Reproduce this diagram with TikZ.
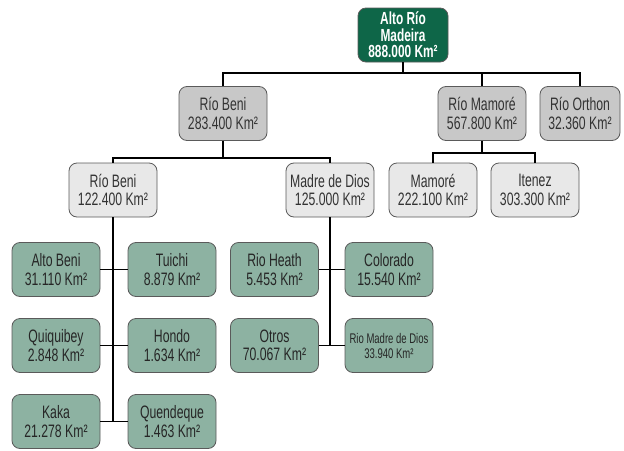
\documentclass[tikz,border=0pt]{standalone}
\usepackage{fontspec}
\setmainfont[FakeStretch=0.68]{Liberation Sans}
\usepackage{tikz}
\usetikzlibrary{positioning}

\definecolor{rootgreen}{HTML}{0E6648}
\definecolor{boxgreen}{HTML}{8DB2A2}
\definecolor{grayone}{HTML}{C8C8C8}
\definecolor{graytwo}{HTML}{E8E8E8}
\definecolor{boxline}{HTML}{5A5A5A}

\tikzset{
  basebox/.style={rounded corners=8pt, draw=boxline, line width=0.8pt, align=center,
    minimum width=88pt, minimum height=54pt, inner sep=1pt,
    font=\fontsize{18}{18.5}\selectfont},
  rootbox/.style={basebox, fill=rootgreen, text=white, minimum width=90pt,
    font=\bfseries\fontsize{17.5}{16.5}\selectfont},
  grayA/.style={basebox, fill=grayone, text=black!80},
  grayB/.style={basebox, fill=graytwo, text=black!80},
  greenbox/.style={basebox, fill=boxgreen, text=black!85},
  link/.style={draw=black, line width=1.4pt}
}

\begin{document}
\begin{tikzpicture}[x=1pt, y=-1pt]
  \useasboundingbox (0,0) rectangle (624,450);

  % top of the tree
  \node[rootbox] (altoRio) at (403,35) {Alto Río\\Madeira\\888.000 Km²};
  \node[grayA] (beni)   at (223,113.5) {Río Beni\\283.400 Km²};
  \node[grayA] (mamore) at (482,113.5) {Río Mamoré\\567.800 Km²};
  \node[grayA, minimum width=80pt] (orthon) at (580,113.5) {Río Orthon\\32.360 Km²};

  % second level
  \node[grayB] (beniB)   at (113,190) {Río Beni\\122.400 Km²};
  \node[grayB] (madre)   at (330,190) {Madre de Dios\\125.000 Km²};
  \node[grayB] (mamoreB) at (433,190) {Mamoré\\222.100 Km²};
  \node[grayB] (itenez)  at (535,190) {Itenez\\303.300 Km²};

  % sub-basins of Beni
  \node[greenbox] (altoBeni)  at (56,269.5)  {Alto Beni\\31.110 Km²};
  \node[greenbox] (tuichi)    at (172,269.5) {Tuichi\\8.879 Km²};
  \node[greenbox] (quiquibey) at (56,345.5)  {Quiquibey\\2.848 Km²};
  \node[greenbox] (hondo)     at (172,345.5) {Hondo\\1.634 Km²};
  \node[greenbox] (kaka)      at (56,421.5)  {Kaka\\21.278 Km²};
  \node[greenbox] (quendeque) at (172,421.5) {Quendeque\\1.463 Km²};

  % sub-basins of Madre de Dios
  \node[greenbox] (heath)    at (274.5,269.5) {Rio Heath\\5.453 Km²};
  \node[greenbox] (colorado) at (389,269.5)   {Colorado\\15.540 Km²};
  \node[greenbox] (otros)    at (274.5,345.5) {Otros\\70.067 Km²};
  \node[greenbox, font=\fontsize{14}{15}\selectfont] (rmdd) at (389,345.5) {Rio Madre de Dios\\33.940 Km²};

  \coordinate (busA) at (403,73);
  \coordinate (busB) at (223,158);
  \coordinate (busC) at (482,153);

  % connectors
  \draw[link] (altoRio) -- (busA);
  \draw[link] (beni.north) |- (busA) -| (orthon.north);
  \draw[link] (busA -| mamore.north) -- (mamore.north);
  \draw[link] (beni) -- (busB);
  \draw[link] (beniB.north) |- (busB) -| (madre.north);
  \draw[link] (mamore) -- (busC);
  \draw[link] (mamoreB.north) |- (busC) -| (itenez.north);
  \draw[link] (beniB) -- (beniB |- kaka);
  \draw[link] (madre) -- (madre |- otros);
  \draw[link] (altoBeni) -- (tuichi);
  \draw[link] (quiquibey) -- (hondo);
  \draw[link] (kaka) -- (quendeque);
  \draw[link] (heath) -- (colorado);
  \draw[link] (otros) -- (rmdd);
\end{tikzpicture}
\end{document}
